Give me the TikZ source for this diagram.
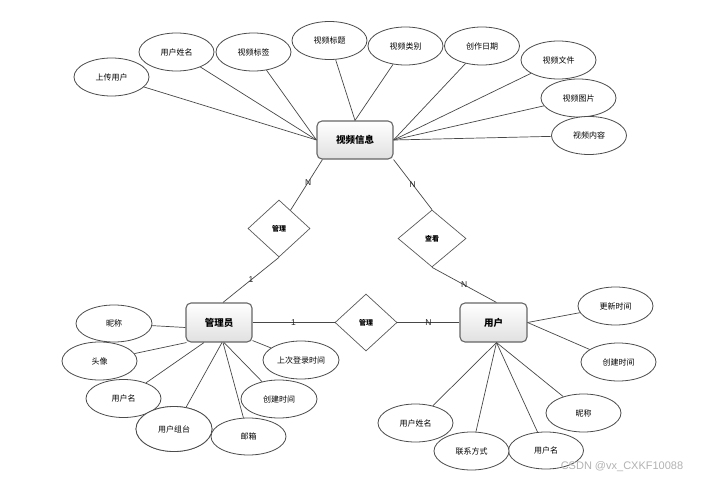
\documentclass[tikz,border=0pt]{standalone}
\usepackage{fontspec}
\setmainfont{Liberation Sans}
\newfontfamily\cjk{Noto Sans CJK SC}
\usetikzlibrary{shapes.geometric}
\begin{document}
\begin{tikzpicture}[x=1pt,y=-1pt,
  attr/.style={ellipse, draw=black!70, line width=0.8pt, fill=white,
    minimum width=75pt, minimum height=38pt, inner sep=0pt,
    font=\cjk\fontsize{8}{9}\selectfont},
  ent/.style={rectangle, rounded corners=5pt, draw=black!60, line width=1.1pt,
    top color=white, bottom color=black!12, inner sep=0pt,
    font=\cjk\bfseries\fontsize{9.5}{11}\selectfont},
  rel/.style={diamond, draw=black!65, line width=0.7pt, fill=white, inner sep=0pt,
    font=\cjk\bfseries\fontsize{7}{8}\selectfont},
  conn/.style={draw=black!72, line width=0.7pt},
  card/.style={font=\fontsize{8.5}{10}\selectfont, inner sep=0pt, text=black!85}]
\useasboundingbox (0,0) rectangle (705,479);

% entities
\node[ent, minimum width=76pt, minimum height=38pt] (info) at (355,140) {视频信息};
\node[ent, minimum width=66pt, minimum height=39pt] (admin) at (219,322.5) {管理员};
\node[ent, minimum width=67pt, minimum height=39pt] (user) at (493.5,322.5) {用户};

% relationships
\node[rel, minimum width=62pt, minimum height=57pt] (guanli) at (279,228.5) {管理};
\node[rel, minimum width=68pt, minimum height=57pt] (chakan) at (432,238.5) {查看};
\node[rel, minimum width=62pt, minimum height=57pt] (guanli2) at (366,322.5) {管理};

% video attributes
\node[attr] (a1) at (111.5,77) {上传用户};
\node[attr] (a2) at (176.5,52) {用户姓名};
\node[attr] (a3) at (253.5,52) {视频标签};
\node[attr] (a4) at (329.5,40.5) {视频标题};
\node[attr] (a5) at (405.5,46) {视频类别};
\node[attr] (a6) at (482,46) {创作日期};
\node[attr] (a7) at (558.5,60) {视频文件};
\node[attr] (a8) at (578.5,98) {视频图片};
\node[attr] (a9) at (589,135.5) {视频内容};

% admin attributes
\node[attr, minimum width=76pt, minimum height=37pt] (b1) at (114,323.5) {昵称};
\node[attr] (b2) at (99.5,361) {头像};
\node[attr] (b3) at (123.5,398.5) {用户名};
\node[attr, minimum width=76pt, minimum height=45pt] (b4) at (174,429) {用户组台};
\node[attr, minimum height=37pt] (b5) at (248.5,436.5) {邮箱};
\node[attr, minimum width=76pt] (b6) at (279,399) {创建时间};
\node[attr, minimum width=76pt] (b7) at (301,360) {上次登录时间};

% user attributes
\node[attr] (c1) at (615.5,306) {更新时间};
\node[attr] (c2) at (618.5,362) {创建时间};
\node[attr] (c3) at (583.5,413) {昵称};
\node[attr, minimum height=37pt] (c4) at (546,450.5) {用户名};
\node[attr] (c5) at (471.5,451) {联系方式};
\node[attr] (c6) at (415.5,423) {用户姓名};

% video attribute connectors
\draw[conn] (a1) -- (info.west);
\draw[conn] (a2) -- (info.west);
\draw[conn] (a3) -- (info.west);
\draw[conn] (a4) -- (info.north);
\draw[conn] (a5) -- (info.north);
\draw[conn] (a6) -- (info.east);
\draw[conn] (a7) -- (info.east);
\draw[conn] (a8) -- (info.east);
\draw[conn] (a9) -- (info.east);

% admin attribute connectors
\draw[conn] (b1) -- ([yshift=-5pt]admin.west);
\draw[conn] (b2) -- ([xshift=1pt]admin.south west);
\draw[conn] (b3) -- ([xshift=-15pt]admin.south);
\draw[conn] (b4) -- ([xshift=3pt]admin.south);
\draw[conn] (b5) -- ([xshift=4pt]admin.south);
\draw[conn] (b6) -- ([xshift=5pt]admin.south);
\draw[conn] (b7) -- ([yshift=2pt]admin.south east);

% user attribute connectors
\draw[conn] (c1) -- (user.east);
\draw[conn] (c2) -- (user.east);
\draw[conn] (c3) -- ([xshift=3pt]user.south);
\draw[conn] (c4) -- ([xshift=3pt]user.south);
\draw[conn] (c5) -- ([xshift=3pt]user.south);
\draw[conn] (c6) -- ([xshift=3pt]user.south);

% redraw overlapping attribute on top
\node[attr, minimum width=76pt, minimum height=45pt] at (174,429) {用户组台};

% relationship connectors
\draw[conn] ([xshift=6pt]info.south west) -- (guanli) node[card, pos=0.45] {N};
\draw[conn] (guanli.south) -- ([xshift=4pt]admin.north) node[card, pos=0.5] {1};
\draw[conn] (info.south east) -- (chakan.north) node[card, pos=0.5] {N};
\draw[conn] (chakan.south) -- ([xshift=3pt]user.north) node[card, pos=0.5] {N};
\draw[conn] (admin.east) -- (guanli2.west) node[card, pos=0.5] {1};
\draw[conn] (guanli2.east) -- (user.west) node[card, pos=0.5] {N};

% watermark
\node[font=\fontsize{11}{12}\selectfont, text=black!30, inner sep=0pt] (wm) at (622,467) {CSDN @vx\_CXKF10088};
\end{tikzpicture}
\end{document}
